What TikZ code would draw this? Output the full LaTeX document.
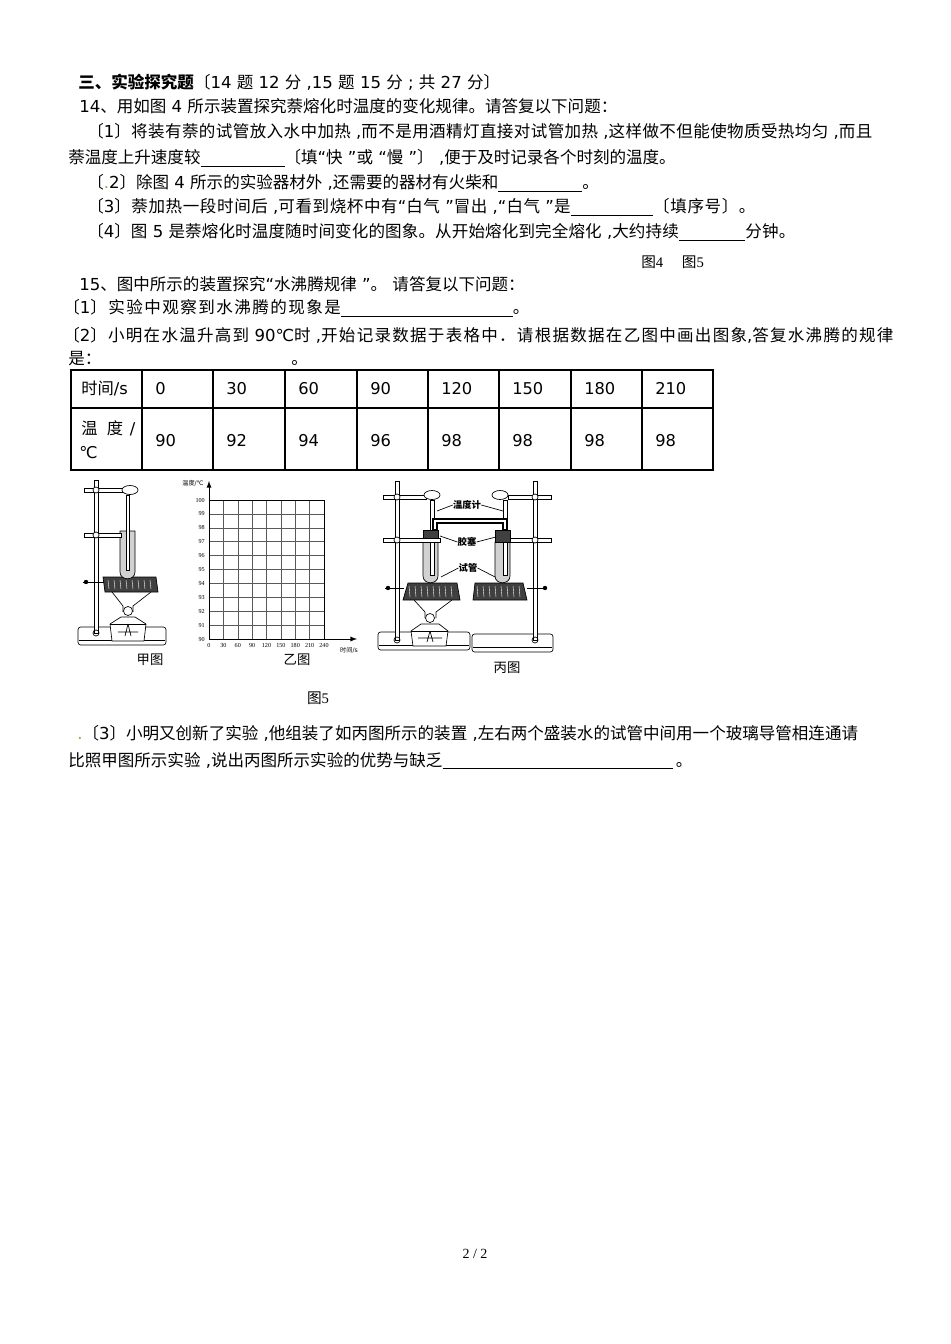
\documentclass[tikz,border=0pt]{standalone}
\usepackage{fontspec}
\setmainfont{DejaVu Sans}
\newfontfamily\latf{DejaVu Sans}
\newfontfamily\cjkf{Noto Sans CJK SC}
\newfontfamily\tms{Liberation Serif}
\newlength\cjkextra
\setlength\cjkextra{0pt}
\XeTeXinterchartokenstate=1
\newXeTeXintercharclass\CJKcls
\newcount\cc
\cc="3000 \loop \XeTeXcharclass\cc=\CJKcls \advance\cc by 1 \ifnum\cc<"3040 \repeat
\cc="4E00 \loop \XeTeXcharclass\cc=\CJKcls \advance\cc by 1 \ifnum\cc<"A000 \repeat
\cc="FF00 \loop \XeTeXcharclass\cc=\CJKcls \advance\cc by 1 \ifnum\cc<"FFF0 \repeat
\XeTeXinterchartoks 0 \CJKcls = {\cjkf}
\XeTeXinterchartoks 4095 \CJKcls = {\cjkf}
\XeTeXinterchartoks \CJKcls 0 = {\latf}
\XeTeXinterchartoks \CJKcls 4095 = {\latf}
\XeTeXinterchartoks \CJKcls \CJKcls = {\hskip\cjkextra\relax}
\newcommand\nointer{\XeTeXinterchartokenstate=0\relax}
\definecolor{olivedot}{RGB}{175,160,60}
\newcommand\blankrule[1]{\rule[-2.2pt]{#1}{0.6pt}}
\begin{document}
\begin{tikzpicture}[x=0.75pt,y=-0.75pt,
 txt/.style={anchor=base west,inner sep=0pt,font=\fontsize{12.4}{14}\selectfont},
 cell/.style={anchor=base west,inner sep=0pt,font=\fontsize{12.2}{14}\selectfont},
 app/.style={line width=0.5pt,draw=black},
 dark/.style={fill=black!75,draw=black,line width=0.5pt},
 water/.style={fill=black!18,draw=black,line width=0.5pt},
 gridline/.style={line width=0.35pt,draw=black!65},
 ticklab/.style={inner sep=0pt,font=\nointer\tms\fontsize{4.6}{5}\selectfont},
 smalllab/.style={inner sep=0pt,font=\fontsize{4.6}{5}\selectfont},
 applab/.style={inner sep=0pt,font=\bfseries\fontsize{7}{8}\selectfont},
 figcap/.style={inner sep=0pt,font=\fontsize{10}{12}\selectfont},
 serifcap/.style={inner sep=0pt,font=\nointer\fontsize{11}{12}\selectfont},
 leader/.style={line width=0.5pt}
]
\useasboundingbox (0,0) rectangle (950,1344);
\fill[white] (0,0) rectangle (950,1344);

% ---------------- section text ----------------
\node[txt] (l1) at (78,89) {\textbf{三、实验探究题}〔14 题 12 分 ,15 题 15 分 ; 共 27 分〕};
\node[txt] (l2) at (79,113) {14、用如图 4 所示装置探究萘熔化时温度的变化规律。请答复以下问题：};
\node[txt] (l3) at (87,138) {\setlength\cjkextra{0.3pt}〔1〕将装有萘的试管放入水中加热 ,而不是用酒精灯直接对试管加热 ,这样做不但能使物质受热均匀 ,而且};
\node[txt] (l4) at (68,164) {萘温度上升速度较\blankrule{63pt}〔填“快 ”或 “慢 ”〕 ,便于及时记录各个时刻的温度。};
\node[txt] (l5) at (87,189) {〔{\color{olivedot}.}2〕除图 4 所示的实验器材外 ,还需要的器材有火柴和\blankrule{63pt}。};
\node[txt] (l6) at (87,213) {\setlength\cjkextra{0.45pt}〔3〕萘加热一段时间后 ,可看到烧杯中有“白气 ”冒出 ,“白气 ”是\blankrule{62pt}〔填序号〕。};
\fill[olivedot] (345,211) circle (1.1);
\node[txt] (l7) at (87,238) {\setlength\cjkextra{0.1pt}〔4〕图 5 是萘熔化时温度随时间变化的图象。从开始熔化到完全熔化 ,大约持续\blankrule{50pt}分钟。};
\node[serifcap,anchor=base west] (fig45) at (641,268) {\cjkf 图\tms 4\hspace{14pt}\cjkf 图\tms 5};

\node[txt] (m1) at (79,291) {15、图中所示的装置探究“水沸腾规律 ”。 请答复以下问题：};
\node[txt] (m2) at (63,314) {\setlength\cjkextra{1.1pt}〔1〕实验中观察到水沸腾的现象是\blankrule{129pt}。};
\node[txt] (m3) at (63,341) {\setlength\cjkextra{0.95pt}〔2〕小明在水温升高到 90℃时 ,开始记录数据于表格中．请根据数据在乙图中画出图象,答复水沸腾的规律};
\node[txt] (m4a) at (68,364) {是：};
\node[txt] (m4b) at (291,364) {。};

% ---------------- table ----------------
\draw[line width=1.2pt] (71,370) rectangle (713,470);
\draw[line width=0.8pt] (71,408) -- (713,408);
\foreach \cx in {142,213,285,357,428,499,571,642}{\draw[line width=0.8pt] (\cx,370) -- (\cx,470);}
\node[cell] (th) at (81,394) {时间/s};
\node[cell] (tt1) at (81,434) {温\hspace{7pt}度\hspace{5pt}/};
\node[cell] (tt2) at (79,458) {℃};
\foreach \cx/\tv/\tw [count=\i] in {142/0/90,213/30/92,285/60/94,357/90/96,428/120/98,499/150/98,571/180/98,642/210/98}{
  \node[cell] (ta\i) at (\cx+13,394) {\tv};
  \node[cell] (tb\i) at (\cx+13,446) {\tw};
}

% ---------------- 甲图 ----------------
\draw[app,fill=white,rounded corners=2] (78,627) rectangle (166,645);
\draw[app] (79,640) -- (165,640);
\draw[app,fill=white] (94,480) rectangle (98,633);
\draw[app] (96,633) circle (3);
\draw[app,fill=white] (121,617) -- (135,617) -- (146,624) -- (144,641) -- (112,641) -- (110,624) -- cycle;
\draw[app] (110,624) -- (146,624);
\draw[app] (128,624) -- (125,636) (128,624) -- (131,636) (118,632) -- (138,632);
\draw[app] (112,592) -- (123,606) -- (123,612) (151,592) -- (133,606) -- (133,612);
\draw[app,fill=white] (128,611) circle (4.5);
\draw[app] (83,582) -- (104,582);
\fill (86,582) circle (2.2);
\draw[dark] (103,577) -- (156,577) -- (158,592) -- (105,592) -- cycle;
\foreach \hx in {108,114,...,152}{\draw[white,line width=0.3pt] (\hx,580) -- (\hx+1,589);}
\draw[water] (120,531) -- (120,572) .. controls (120,581) and (135,581) .. (135,572) -- (135,531) -- cycle;
\draw[app,fill=white] (126,495) rectangle (129,570);
\draw[app,fill=white] (84,488) rectangle (123,492);
\draw[app,fill=white] (96,490) circle (3);
\draw[app,fill=white] (130,490) ellipse (8 and 4.5);
\draw[app,fill=white] (84,533) rectangle (121,537);
\draw[app,fill=white] (96,535) circle (3);
\node[figcap] (capA) at (150,660) {甲图};

% ---------------- 乙图 ----------------
\foreach \gy in {0,...,10}{\draw[gridline] (209,639-\gy*13.9) -- (324,639-\gy*13.9);}
\foreach \gx in {0,...,8}{\draw[gridline] (209+\gx*14.375,639) -- (209+\gx*14.375,500);}
\draw[line width=0.6pt] (209,500) -- (324,500) -- (324,639);
\coordinate (org) at (209,639);
\coordinate (ytop) at (209,481);
\coordinate (xend) at (357,639);
\draw[line width=0.7pt,-latex] (org) -- (ytop);
\draw[line width=0.7pt,-latex] (org) -- (xend);
\foreach \v in {90,...,100}{\node[ticklab,anchor=east] at (205,639-\v*13.9+90*13.9) {\v};}
\foreach \v [count=\k from 0] in {0,30,60,90,120,150,180,210,240}{\node[ticklab,anchor=north] at (209+\k*14.375,643) {\v};}
\node[smalllab] (ylab) at (193,483) {温度/℃};
\node[smalllab] (xlab) at (349,650) {时间/s};
\node[figcap] (capB) at (297,660) {乙图};
\node[serifcap] (cap5) at (318,698) {\cjkf 图\tms 5};

% ---------------- 丙图 ----------------
\draw[app,fill=white,rounded corners=2] (378,632) rectangle (470,650);
\draw[app] (379,645) -- (469,645);
\draw[app,fill=white] (395,481) rectangle (399,640);
\draw[app] (397,640) circle (3);
\draw[app,fill=white] (421,624) -- (439,624) -- (448,631) -- (446,646) -- (413,646) -- (411,631) -- cycle;
\draw[app] (411,631) -- (448,631);
\draw[app] (430,631) -- (427,642) (430,631) -- (433,642) (418,638) -- (442,638);
\draw[app] (414,600) -- (425,612) -- (425,618) (452,600) -- (436,612) -- (436,618);
\draw[app,fill=white] (430,618) circle (4.5);
\draw[app] (385,588) -- (404,588);
\fill (388,588) circle (2.2);
\draw[dark] (408,583) -- (457,583) -- (460,600) -- (403,600) -- cycle;
\foreach \hx in {409,415,...,455}{\draw[white,line width=0.3pt] (\hx,586) -- (\hx+1,597);}
\draw[water] (423,542) -- (423,576) .. controls (423,585) and (438,585) .. (438,576) -- (438,542) -- cycle;
\draw[app,fill=white] (430,500) rectangle (434,575);
\draw[dark] (423,530) rectangle (438,542);
\draw[app,fill=white] (383,495) rectangle (426,499);
\draw[app,fill=white] (397,497) circle (3);
\draw[app,fill=white] (432,495) ellipse (8 and 4.5);
\draw[app,fill=white] (383,538) rectangle (440,542);
\draw[app,fill=white] (397,540) circle (3);
\draw[app,fill=white,rounded corners=2] (472,634) rectangle (553,652);
\draw[app] (473,647) -- (552,647);
\draw[app,fill=white] (533,481) rectangle (537,640);
\draw[app] (535,640) circle (3);
\draw[app] (527,588) -- (547,588);
\fill (545,588) circle (2.2);
\draw[dark] (475,583) -- (523,583) -- (527,600) -- (473,600) -- cycle;
\foreach \hx in {477,483,...,521}{\draw[white,line width=0.3pt] (\hx,586) -- (\hx+1,597);}
\draw[water] (495,542) -- (495,576) .. controls (495,585) and (510,585) .. (510,576) -- (510,542) -- cycle;
\draw[app,fill=white] (503,500) rectangle (507,575);
\draw[dark] (495,530) rectangle (510,542);
\draw[app,fill=white] (508,495) rectangle (551,499);
\draw[app,fill=white] (535,497) circle (3);
\draw[app,fill=white] (500,495) ellipse (8 and 4.5);
\draw[app,fill=white] (510,538) rectangle (551,542);
\draw[app,fill=white] (535,540) circle (3);
\draw[line width=4pt,line join=miter] (435,530) -- (435,521) -- (505,521) -- (505,530);
\draw[white,line width=2.2pt,line join=miter] (435,529) -- (435,521) -- (505,521) -- (505,529);
\node[applab] (wdj) at (467,505) {温度计};
\node[applab] (jiaos) at (467,542) {胶塞};
\node[applab] (shig) at (468,568) {试管};
\coordinate (wL) at (437,511); \coordinate (wR) at (503,511);
\coordinate (jL) at (440,536); \coordinate (jR) at (496,537);
\coordinate (sL) at (441,577); \coordinate (sR) at (495,577);
\draw[leader] (wdj.west) -- (wL); \draw[leader] (wdj.east) -- (wR);
\draw[leader] (jiaos.west) -- (jL); \draw[leader] (jiaos.east) -- (jR);
\draw[leader] (shig.west) -- (sL); \draw[leader] (shig.east) -- (sR);
\node[figcap] (capC) at (507,668) {丙图};

% ---------------- part 3 ----------------
\node[txt] (n1) at (77,739) {{\color{olivedot}.}〔3〕小明又创新了实验 ,他组装了如丙图所示的装置 ,左右两个盛装水的试管中间用一个玻璃导管相连通请};
\node[txt] (n2) at (68,766) {比照甲图所示实验 ,说出丙图所示实验的优势与缺乏\blankrule{173pt}\,。};

\node[inner sep=0pt,font=\nointer\tms\fontsize{10.5}{12}\selectfont] (pg) at (475,1254) {2 / 2};
\end{tikzpicture}
\end{document}
